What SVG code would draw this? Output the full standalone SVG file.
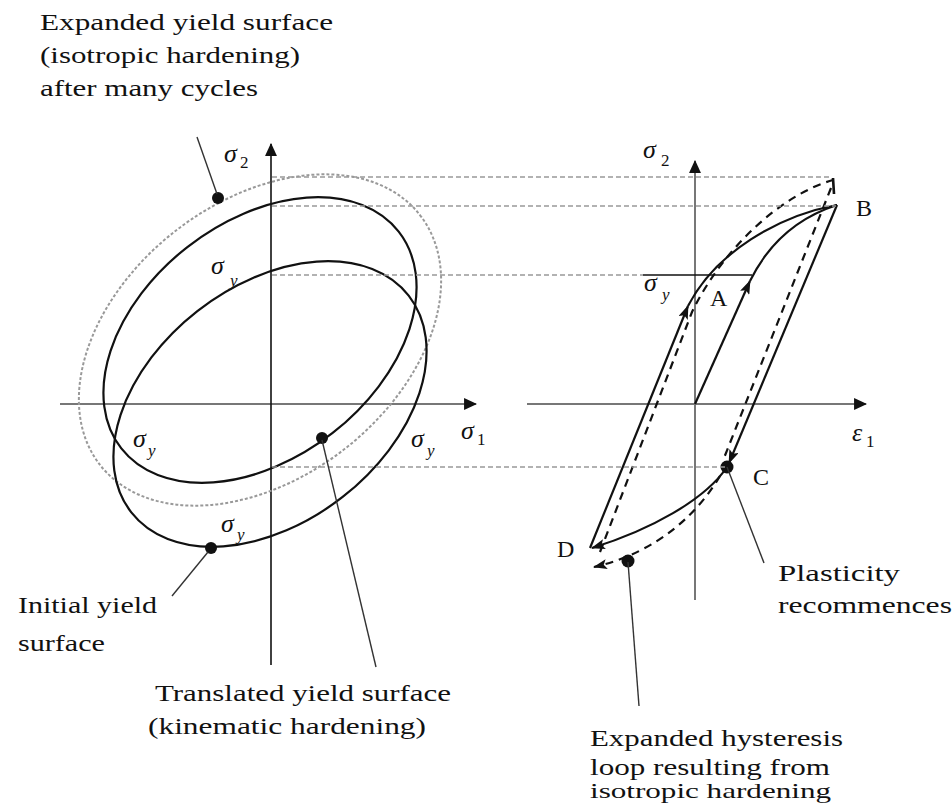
<svg xmlns="http://www.w3.org/2000/svg" width="952" height="803" viewBox="0 0 952 803">
<style>
text { font-family: "Liberation Serif", "Times New Roman", serif; font-size: 24px; fill: #111; }
.sym { font-style: italic; font-size: 26px; }
.sub { font-size: 17px; }
.suby { font-style: italic; font-size: 17px; }
.lbl { font-size: 24px; }
.axis { stroke: #777; stroke-width: 2; fill: none; }
.axisk { stroke: #111; stroke-width: 1.6; fill: none; }
.curve { stroke: #111; stroke-width: 2.2; fill: none; }
.exp { stroke: #999; stroke-width: 2; fill: none; stroke-dasharray: 3 2; }
.guide { stroke: #999; stroke-width: 1.5; stroke-dasharray: 5 3; fill: none; }
.dash { stroke: #111; stroke-width: 2.2; fill: none; stroke-dasharray: 8 6; }
.leader { stroke: #333; stroke-width: 1.4; fill: none; }
.dot { fill: #111; }
</style>
<defs>
<marker id="axhead" viewBox="0 0 12 12" refX="11" refY="6" markerWidth="13" markerHeight="13" markerUnits="userSpaceOnUse" orient="auto"><path d="M0,0.5 L12,6 L0,11.5 z" fill="#111"/></marker>
<marker id="arr" viewBox="0 0 14 10" refX="13" refY="5" markerWidth="14" markerHeight="10" markerUnits="userSpaceOnUse" orient="auto"><path d="M0,0 L14,5 L0,10 L3,5 z" fill="#111"/></marker>
</defs>

<g id="left-diagram">
  <g id="axes-left">
    <line class="axis" x1="60" y1="404" x2="476" y2="404" marker-end="url(#axhead)"/>
    <line class="axisk" x1="271" y1="665" x2="271" y2="144" marker-end="url(#axhead)"/>
  </g>
  <g id="expanded-surface">
    <ellipse class="exp" cx="260" cy="340" rx="203" ry="138" transform="rotate(-38 260 340)"/>
  </g>
  <g id="translated-surface">
    <ellipse class="curve" cx="260" cy="340" rx="176" ry="118" transform="rotate(-38 260 340)"/>
  </g>
  <g id="initial-surface">
    <ellipse class="curve" cx="270" cy="404" rx="176" ry="118" transform="rotate(-38 270 404)"/>
  </g>
  <g id="dots-left">
    <circle class="dot" cx="218" cy="198" r="6"/>
    <circle class="dot" cx="322" cy="438" r="6"/>
    <circle class="dot" cx="211" cy="548" r="6"/>
  </g>
  <g id="labels-left">
    <text class="sym" x="224" y="162">σ</text><text class="sub" x="240" y="168">2</text>
    <text class="sym" x="211" y="274">σ</text><text class="suby" x="230" y="286">y</text>
    <text class="sym" x="133" y="447">σ</text><text class="suby" x="148" y="456">y</text>
    <text class="sym" x="221" y="532">σ</text><text class="suby" x="237" y="540">y</text>
    <text class="sym" x="411" y="447">σ</text><text class="suby" x="427" y="456">y</text>
    <text class="sym" x="461" y="439">σ</text><text class="sub" x="477" y="445">1</text>
  </g>
</g>

<g id="right-diagram">
  <g id="axes-right">
    <line class="axis" x1="527" y1="404" x2="866" y2="404" marker-end="url(#axhead)"/>
    <line class="axis" x1="695" y1="600" x2="695" y2="161" marker-end="url(#axhead)"/>
  </g>
  <g id="loop-solid">
    <line class="curve" x1="695" y1="404" x2="750" y2="281" marker-end="url(#arr)"/>
    <path class="curve" d="M750,281 Q778,224 837,205"/>
    <line class="curve" x1="837" y1="205" x2="729" y2="463" marker-end="url(#arr)"/>
    <path class="curve" d="M727,467 C705,500 650,530 592,548" marker-end="url(#arr)"/>
    <line class="curve" x1="590" y1="548" x2="688" y2="306" marker-end="url(#arr)"/>
    <path class="curve" d="M688,306 C716,252 778,216 837,205"/>
    <line class="curve" x1="643" y1="275" x2="752" y2="275" style="stroke-width:1.6"/>
  </g>
  <g id="loop-dashed">
    <path class="dash" d="M600,552 L692,312 C722,250 780,195 833,180"/>
    <line class="curve" x1="833" y1="178" x2="834" y2="194" style="stroke-width:2.6"/>
    <line class="dash" x1="831" y1="188" x2="724" y2="458"/>
    <path class="dash" d="M720,476 C700,510 660,552 594,567" marker-end="url(#arr)"/>
  </g>
  <g id="dots-right">
    <circle class="dot" cx="727" cy="467" r="6.5"/>
    <circle class="dot" cx="628" cy="561" r="6.5"/>
  </g>
  <g id="labels-right">
    <text class="sym" x="643" y="158">σ</text><text class="sub" x="661" y="166">2</text>
    <text class="sym" x="644" y="291">σ</text><text class="suby" x="662" y="300">y</text>
    <text class="lbl" x="710" y="306">A</text>
    <text class="lbl" x="856" y="216">B</text>
    <text class="lbl" x="753" y="485">C</text>
    <text class="lbl" x="557" y="557">D</text>
    <text class="sym" x="852" y="441">ε</text><text class="sub" x="866" y="447">1</text>
  </g>
</g>

<g id="guides">
  <path class="guide" d="M272,177 H832"/>
  <path class="guide" d="M272,206 H836"/>
  <path class="guide" d="M272,275 H643"/>
  <path class="guide" d="M272,467 H727"/>
</g>

<g id="leaders">
  <line class="leader" x1="197" y1="137" x2="217" y2="194"/>
  <line class="leader" x1="208" y1="552" x2="172" y2="596"/>
  <line class="leader" x1="322" y1="440" x2="376" y2="667"/>
  <line class="leader" x1="727" y1="467" x2="764" y2="563"/>
  <line class="leader" x1="628" y1="562" x2="639" y2="706"/>
</g>

<g id="text-expanded">
  <text x="40" y="30" textLength="293" lengthAdjust="spacingAndGlyphs">Expanded yield surface</text>
  <text x="40" y="63" textLength="260" lengthAdjust="spacingAndGlyphs">(isotropic hardening)</text>
  <text x="40" y="96" textLength="218" lengthAdjust="spacingAndGlyphs">after many cycles</text>
</g>
<g id="text-initial">
  <text x="18" y="613" textLength="139" lengthAdjust="spacingAndGlyphs">Initial yield</text>
  <text x="18" y="651" textLength="87" lengthAdjust="spacingAndGlyphs">surface</text>
</g>
<g id="text-translated">
  <text x="155" y="701" textLength="296" lengthAdjust="spacingAndGlyphs">Translated yield surface</text>
  <text x="148" y="734" textLength="278" lengthAdjust="spacingAndGlyphs">(kinematic hardening)</text>
</g>
<g id="text-hysteresis">
  <text x="590" y="746" textLength="253" lengthAdjust="spacingAndGlyphs">Expanded hysteresis</text>
  <text x="590" y="775" textLength="240" lengthAdjust="spacingAndGlyphs">loop resulting from</text>
  <text x="590" y="798" textLength="241" lengthAdjust="spacingAndGlyphs" style="font-size:22px">isotropic hardening</text>
</g>
<g id="text-plasticity">
  <text x="778" y="581" textLength="122" lengthAdjust="spacingAndGlyphs">Plasticity</text>
  <text x="778" y="613" textLength="174" lengthAdjust="spacingAndGlyphs">recommences</text>
</g>
</svg>
